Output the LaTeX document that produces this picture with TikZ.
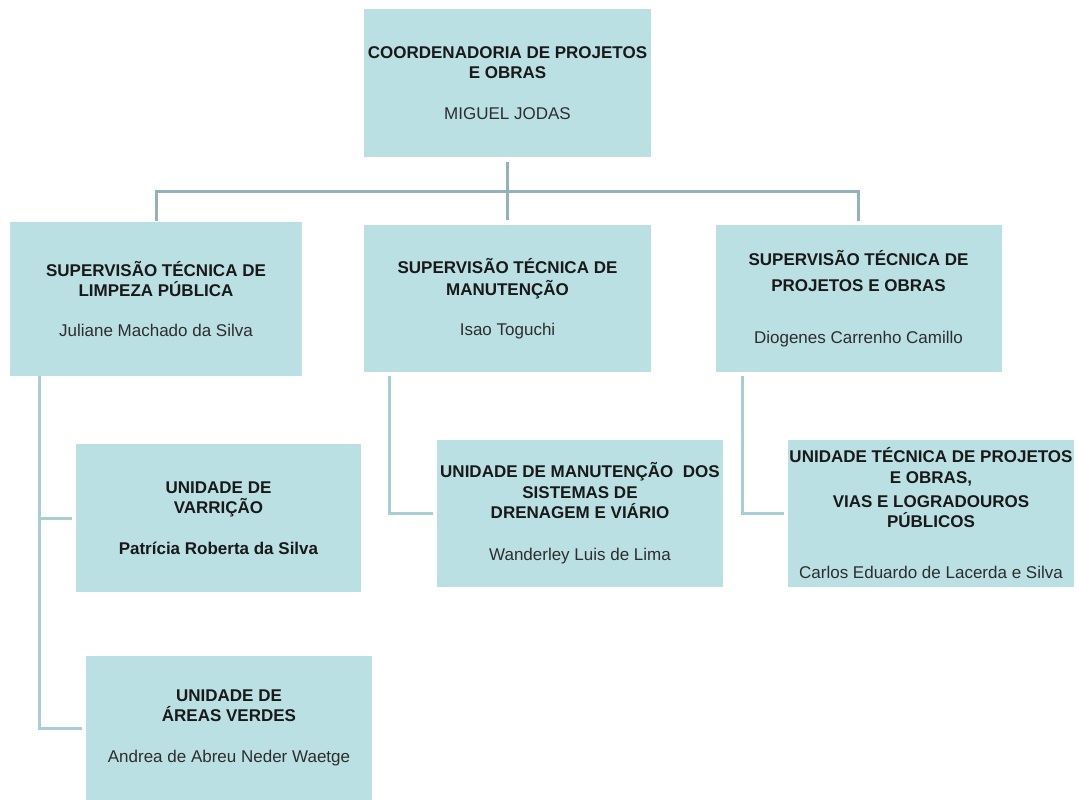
\documentclass[tikz,border=0pt]{standalone}
\usepackage{fontspec}
\setmainfont{Liberation Sans}
\usetikzlibrary{calc}
\definecolor{boxfill}{RGB}{187,224,228}
\definecolor{toplink}{RGB}{146,178,183}
\definecolor{sublink}{RGB}{168,206,211}
\definecolor{nametext}{RGB}{45,45,45}
\newcommand{\chief}[1]{\textcolor{nametext}{#1}}

\begin{document}
\begin{tikzpicture}[x=1pt,y=-1pt]
    % boxes of the chart
    \tikzstyle{unit}=[fill=boxfill, inner sep=0, align=center, text=black!90, font=\fontsize{17}{20.5}\selectfont]
    % links between the boxes
    \tikzstyle{toplinks}=[draw=toplink, line width=3pt]
    \tikzstyle{sublinks}=[draw=sublink, line width=3pt]
    \useasboundingbox (0,0) rectangle (1077,800);
    % coordination
    \node[unit, minimum width=287, minimum height=148] (coord) at (507.5,83)
        {\textbf{COORDENADORIA DE PROJETOS}\\\textbf{E OBRAS}\\[20.5pt]\chief{MIGUEL JODAS}};
    % supervisions
    \node[unit, minimum width=292, minimum height=154] (supLimp) at (156,299)
        {\textbf{SUPERVISÃO TÉCNICA DE}\\\textbf{LIMPEZA PÚBLICA}\\[19.5pt]\chief{Juliane Machado da Silva}};
    \node[unit, minimum width=287, minimum height=147] (supManut) at (507.5,298.5)
        {\textbf{SUPERVISÃO TÉCNICA DE}\\[1.5pt]\textbf{MANUTENÇÃO}\\[19.5pt]\chief{Isao Toguchi}};
    \node[unit, minimum width=286, minimum height=147] (supProj) at (858.5,298.5)
        {\textbf{SUPERVISÃO TÉCNICA DE}\\[5.5pt]\textbf{PROJETOS E OBRAS}\\[31.5pt]\chief{Diogenes Carrenho Camillo}};
    % units
    \node[unit, minimum width=285, minimum height=148] (uniVarr) at (218.5,518)
        {\textbf{UNIDADE DE}\\\textbf{VARRIÇÃO}\\[20.5pt]\textbf{Patrícia Roberta da Silva}};
    \node[unit, minimum width=286, minimum height=144] (uniAreas) at (229,728)
        {\textbf{UNIDADE DE}\\\textbf{ÁREAS VERDES}\\[20.5pt]\chief{Andrea de Abreu Neder Waetge}};
    \node[unit, minimum width=286, minimum height=147] (uniManut) at (580,513.5)
        {\textbf{UNIDADE DE MANUTENÇÃO\ \ DOS}\\\textbf{SISTEMAS DE}\\\textbf{DRENAGEM E VIÁRIO}\\[21.5pt]\chief{Wanderley Luis de Lima}};
    \node[unit, minimum width=286, minimum height=147] (uniProj) at (931,513.5)
        {\textbf{UNIDADE TÉCNICA DE PROJETOS}\\\textbf{E OBRAS,}\\[3.5pt]\textbf{VIAS E LOGRADOUROS}\\\textbf{PÚBLICOS}\\[30.5pt]\chief{Carlos Eduardo de Lacerda e Silva}};
    % coordination to supervisions
    \coordinate (bar) at (507.5,191);
    \draw[toplinks] ($(coord.south)+(0,5)$) -- ($(supManut.north)+(0,-5)$);
    \draw[toplinks] ($(supLimp.north)+(0,-1)$) |- (supProj.north |- bar) -- ($(supProj.north)+(0,-4)$);
    % supervisions to units
    \coordinate (trunk) at ($(supLimp.south west)+(30,0)$);
    \draw[sublinks] (trunk) |- ($(uniAreas.west)+(-4,0)$);
    \draw[sublinks] (uniVarr.west -| trunk) -- ($(uniVarr.west)+(-4,0)$);
    \draw[sublinks] ($(supManut.south west)+(26,4)$) |- ($(uniManut.west)+(-4,0)$);
    \draw[sublinks] ($(supProj.south west)+(27,4)$) |- ($(uniProj.west)+(-4,0)$);
\end{tikzpicture}
\end{document}
